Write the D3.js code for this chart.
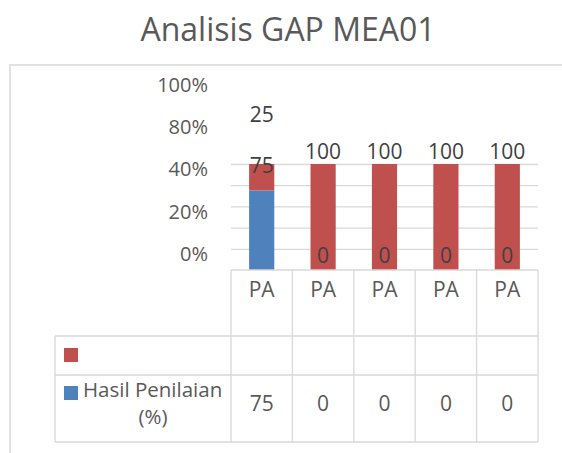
<!doctype html>
<html lang="en">
<head>
<meta charset="utf-8">
<title>Analisis GAP MEA01</title>
<style>
  body { margin: 0; background: #fff; font-family: 'Open Sans', sans-serif; }
  .grid line { stroke: #d9d9d9; stroke-width: 1.3; }
  .grid .domain { display: none; }
</style>
</head>
<body>
<svg width="562" height="453"></svg>
<script src="https://cdn.jsdelivr.net/npm/d3@7"></script>
<script>
// chart data
var categories = ["PA", "PA", "PA", "PA", "PA"];
var hasil = [75, 0, 0, 0, 0];           // Hasil Penilaian (%)
var gap = [25, 100, 100, 100, 100];     // unnamed series
var tickLabels = ["100%", "80%", "40%", "20%", "0%"];

var svg = d3.select("svg");
var gridColor = "#d9d9d9";

// outer chart frame (runs past the window)
svg.append("rect")
    .attr("x", 10).attr("y", 65)
    .attr("width", 700).attr("height", 600)
    .attr("fill", "none")
    .attr("stroke", gridColor)
    .attr("stroke-width", 1.5);

svg.append("text")
    .attr("x", 288).attr("y", 41)
    .attr("text-anchor", "middle")
    .attr("font-size", 32)
    .attr("fill", "#595959")
    .text("Analisis GAP MEA01");

// scales
var x = d3.scaleBand()
    .domain(d3.range(categories.length))
    .range([231, 538]);

var y = d3.scaleLinear()
    .domain([0, 100])
    .range([270, 164]);

var barW = x.bandwidth() * 0.41;

// gridlines
svg.append("g")
    .attr("class", "grid")
    .attr("transform", "translate(231,0)")
    .call(d3.axisLeft(y).tickValues([20, 40, 60, 80, 100]).tickSize(-(538 - 231)).tickFormat(""));

// tick labels (as drawn in the source picture)
var yLab = d3.scalePoint().domain(tickLabels).range([91.7, 261]);
svg.append("g")
  .selectAll("text")
  .data(tickLabels)
  .enter().append("text")
    .attr("x", 208)
    .attr("y", function(d) { return yLab(d); })
    .attr("text-anchor", "end")
    .attr("font-size", 20)
    .attr("fill", "#595959")
    .text(function(d) { return d; });

// stacked bars (percent)
var rows = categories.map(function(c, i) { return {i: i, hasil: hasil[i], gap: gap[i]}; });
var stack = d3.stack().keys(["hasil", "gap"])(rows);
var colors = {hasil: "#4f81bd", gap: "#c0504d"};

svg.append("g")
  .selectAll("g")
  .data(stack)
  .enter().append("g")
    .attr("fill", function(d) { return colors[d.key]; })
  .selectAll("rect")
  .data(function(d) { return d; })
  .enter().append("rect")
    .attr("x", function(d) { return x(d.data.i) + (x.bandwidth() - barW) / 2; })
    .attr("y", function(d) { return y(d[1]); })
    .attr("width", barW)
    .attr("height", function(d) { return y(d[0]) - y(d[1]); });

// data labels
var labels = svg.append("g")
    .attr("font-size", 21)
    .attr("fill", "#404040")
    .attr("text-anchor", "middle");

labels.selectAll(".lh")
  .data(rows)
  .enter().append("text")
    .attr("x", function(d) { return x(d.i) + x.bandwidth() / 2; })
    .attr("y", function(d) { return y(d.hasil) - 7 - d.hasil * 0.14; })
    .text(function(d) { return d.hasil; });

labels.selectAll(".lg")
  .data(rows)
  .enter().append("text")
    .attr("x", function(d) { return x(d.i) + x.bandwidth() / 2; })
    .attr("y", function(d) { return y(100) - 5 - (100 - d.gap) * 0.5; })
    .text(function(d) { return d.gap; });

// data table
var rowY = [270, 336, 375, 442];
var tableLeft = 55;
var table = svg.append("g")
    .attr("stroke", gridColor)
    .attr("stroke-width", 1.3)
    .attr("fill", "none");

// horizontal lines
rowY.forEach(function(yy, k) {
  table.append("line")
      .attr("x1", k === 0 ? 231 : tableLeft).attr("x2", 538)
      .attr("y1", yy).attr("y2", yy);
});
// vertical lines
d3.range(categories.length + 1).forEach(function(i) {
  var xx = i < categories.length ? x(i) : x.range()[1];
  table.append("line")
      .attr("x1", xx).attr("x2", xx)
      .attr("y1", rowY[0]).attr("y2", rowY[3]);
});
table.append("line")
    .attr("x1", tableLeft).attr("x2", tableLeft)
    .attr("y1", rowY[1]).attr("y2", rowY[3]);

var ttext = svg.append("g")
    .attr("font-size", 21)
    .attr("fill", "#595959")
    .attr("text-anchor", "middle");

ttext.selectAll(".cat")
  .data(categories)
  .enter().append("text")
    .attr("x", function(d, i) { return x(i) + x.bandwidth() / 2; })
    .attr("y", 297)
    .text(function(d) { return d; });

ttext.selectAll(".val")
  .data(hasil)
  .enter().append("text")
    .attr("x", function(d, i) { return x(i) + x.bandwidth() / 2; })
    .attr("y", 411)
    .text(function(d) { return d; });

// legend keys in the table
svg.append("rect")
    .attr("x", 64).attr("y", 348)
    .attr("width", 14).attr("height", 14)
    .attr("fill", colors.gap);
svg.append("rect")
    .attr("x", 64).attr("y", 386)
    .attr("width", 14).attr("height", 14)
    .attr("fill", colors.hasil);

ttext.append("text")
    .attr("x", 83).attr("y", 397)
    .attr("text-anchor", "start")
    .attr("font-size", 20.5)
    .text("Hasil Penilaian");
ttext.append("text")
    .attr("x", 153).attr("y", 424)
    .attr("font-size", 20.5)
    .text("(%)");
</script>
</body>
</html>
